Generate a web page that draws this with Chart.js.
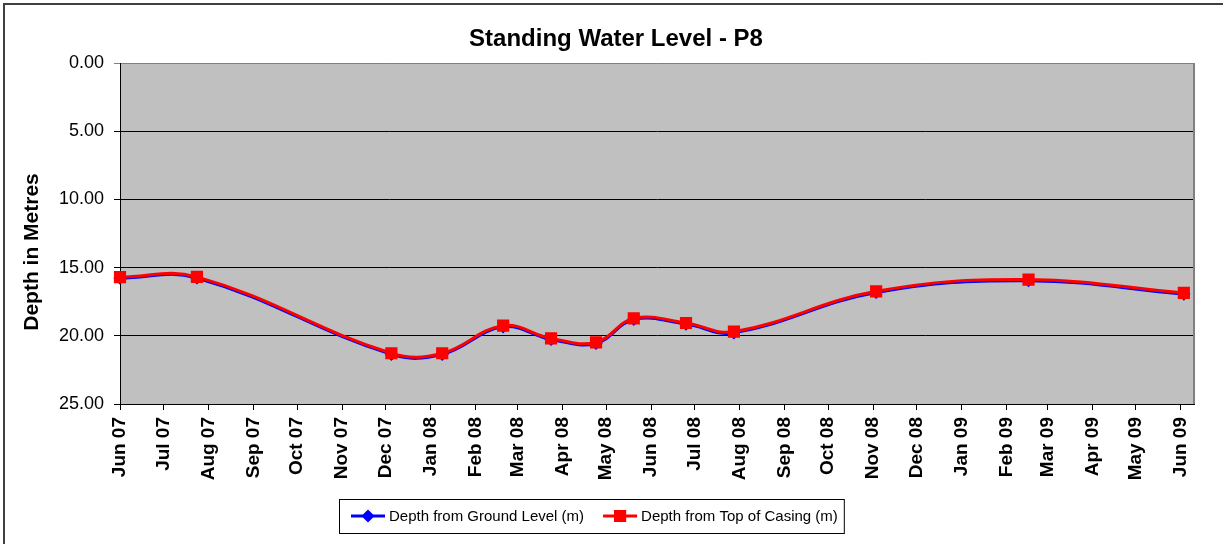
<!DOCTYPE html>
<html>
<head>
<meta charset="utf-8">
<script src="https://cdn.jsdelivr.net/npm/chart.js@4.4.0/dist/chart.umd.min.js"></script>
<style>
  body { margin: 0; background: #fff; }
</style>
</head>
<body>
<canvas id="swl" width="1223" height="544"></canvas>
<script>
const FONT = "'Liberation Sans', Arial, sans-serif";

// readings (depth in metres)
const sampleDates = ['2007-06-01', '2007-07-24', '2007-12-05', '2008-01-09', '2008-02-20', '2008-03-24', '2008-04-24',
  '2008-05-20', '2008-06-25', '2008-07-28', '2008-11-03', '2009-02-16', '2009-06-03'];
const groundLevel = [15.78, 15.76, 21.36, 21.36, 19.34, 20.27, 20.56, 18.80, 19.14, 19.78, 16.82, 15.96, 16.94];
const topOfCasing = [15.70, 15.68, 21.28, 21.28, 19.26, 20.19, 20.48, 18.72, 19.06, 19.70, 16.74, 15.88, 16.86];

const tickLabels = ['Jun 07', 'Jul 07', 'Aug 07', 'Sep 07', 'Oct 07', 'Nov 07', 'Dec 07', 'Jan 08', 'Feb 08', 'Mar 08',
  'Apr 08', 'May 08', 'Jun 08', 'Jul 08', 'Aug 08', 'Sep 08', 'Oct 08', 'Nov 08', 'Dec 08', 'Jan 09', 'Feb 09',
  'Mar 09', 'Apr 09', 'May 09', 'Jun 09'];

const seriesNames = ['Depth from Ground Level (m)', 'Depth from Top of Casing (m)'];

// x axis is in days since 1 Jun 2007
const START = Date.UTC(2007, 5, 1);
const DAY = 86400000;
const dayOf = s => (Date.parse(s) - START) / DAY;
const tickDays = tickLabels.map((_, i) => (Date.UTC(2007, 5 + i, 1) - START) / DAY);

const toPoints = vals => vals.map((v, i) => ({ x: dayOf(sampleDates[i]), y: v }));

// grey plot background, white page
const background = {
  id: 'background',
  beforeDraw(chart) {
    const { ctx, chartArea: a } = chart;
    ctx.save();
    ctx.fillStyle = '#fff';
    ctx.fillRect(0, 0, chart.width, chart.height);
    ctx.fillStyle = '#c0c0c0';
    ctx.fillRect(a.left, a.top, a.right - a.left, a.bottom - a.top);
    ctx.restore();
  },
  beforeDatasetsDraw(chart) {
    const { ctx, chartArea: a } = chart;
    ctx.save();
    ctx.strokeStyle = '#808080';
    ctx.lineWidth = 2;
    ctx.beginPath();
    ctx.moveTo(a.right, a.top);
    ctx.lineTo(a.right, a.bottom);
    ctx.stroke();
    ctx.restore();
  }
};

// title, axis title, legend box and outer frame
const chrome = {
  id: 'chrome',
  afterDraw(chart) {
    const ctx = chart.ctx;
    ctx.save();
    ctx.fillStyle = '#000';
    ctx.textAlign = 'center';
    ctx.textBaseline = 'middle';
    ctx.font = 'bold 24px ' + FONT;
    ctx.fillText('Standing Water Level - P8', 616, 39);

    ctx.save();
    ctx.translate(32, 252);
    ctx.rotate(-Math.PI / 2);
    ctx.font = 'bold 21px ' + FONT;
    ctx.fillText('Depth in Metres', 0, 0);
    ctx.restore();

    // legend
    ctx.font = '15px ' + FONT;
    ctx.textAlign = 'left';
    const sets = chart.data.datasets;
    const widths = sets.map(d => ctx.measureText(d.label).width);
    const left = 339, top = 499, h = 34, cy = top + h / 2;
    const total = 12 + 38 + widths[0] + 19 + 38 + widths[1] + 6;
    ctx.fillStyle = '#fff';
    ctx.fillRect(left, top, total, h);
    ctx.strokeStyle = '#000';
    ctx.lineWidth = 1;
    ctx.strokeRect(left + 0.5, top + 0.5, total, h);
    let x = left + 12;
    sets.forEach((d, i) => {
      ctx.strokeStyle = d.borderColor;
      ctx.lineWidth = 3;
      ctx.beginPath();
      ctx.moveTo(x, cy);
      ctx.lineTo(x + 34, cy);
      ctx.stroke();
      Chart.helpers.drawPoint(ctx, { pointStyle: d.pointStyle, radius: d.pointRadius, rotation: 0, borderWidth: 1 }, x + 17, cy);
      ctx.fillStyle = d.pointBackgroundColor;
      ctx.fill();
      ctx.fillStyle = '#000';
      ctx.fillText(d.label, x + 38, cy + 1);
      x += 38 + widths[i] + 19;
    });

    // outer frame
    ctx.strokeStyle = '#404040';
    ctx.lineWidth = 2;
    ctx.beginPath();
    ctx.moveTo(chart.width, 4);
    ctx.lineTo(4, 4);
    ctx.lineTo(4, chart.height);
    ctx.stroke();
    ctx.restore();
  }
};

new Chart(document.getElementById('swl'), {
  type: 'line',
  data: {
    datasets: [
      {
        label: seriesNames[0],
        data: toPoints(groundLevel),
        borderColor: '#0000ff',
        backgroundColor: '#0000ff',
        pointBackgroundColor: '#0000ff',
        pointBorderColor: '#0000ff',
        pointStyle: 'rectRot',
        pointRadius: 4.5,
        borderWidth: 3,
        tension: 0.4,
        clip: 8,
        order: 1
      },
      {
        label: seriesNames[1],
        data: toPoints(topOfCasing),
        borderColor: '#ff0000',
        backgroundColor: '#ff0000',
        pointBackgroundColor: '#ff0000',
        pointBorderColor: '#ff0000',
        pointStyle: 'rect',
        pointRadius: 6.5,
        borderWidth: 3,
        tension: 0.4,
        clip: 8,
        order: 0
      }
    ]
  },
  options: {
    responsive: false,
    animation: false,
    layout: { padding: { left: 6, right: 29, top: 63, bottom: 50 } },
    plugins: {
      legend: { display: false },
      title: { display: false },
      tooltip: { enabled: false }
    },
    scales: {
      x: {
        type: 'linear',
        min: 0,
        max: 740,
        afterBuildTicks: scale => { scale.ticks = tickDays.map(v => ({ value: v })); },
        afterFit: scale => { scale.height = 90; },
        grid: { drawOnChartArea: false, drawTicks: true, tickLength: 6, color: '#000' },
        border: { color: '#000', width: 1 },
        ticks: {
          autoSkip: false,
          minRotation: 90,
          maxRotation: 90,
          padding: 7,
          color: '#000',
          font: { family: FONT, size: 19, weight: 'bold' },
          callback: (v, i) => tickLabels[i]
        }
      },
      y: {
        reverse: true,
        min: 0,
        max: 25,
        afterFit: scale => { scale.width = 114; },
        grid: {
          color: ctx => (ctx.tick && ctx.tick.value === 0 ? '#808080' : '#000'),
          tickLength: 6,
          lineWidth: 1
        },
        border: { color: '#000', width: 1 },
        ticks: {
          stepSize: 5,
          padding: 10,
          color: '#000',
          font: { family: FONT, size: 18 },
          callback: v => v.toFixed(2)
        }
      }
    }
  },
  plugins: [background, chrome]
});
</script>
</body>
</html>
